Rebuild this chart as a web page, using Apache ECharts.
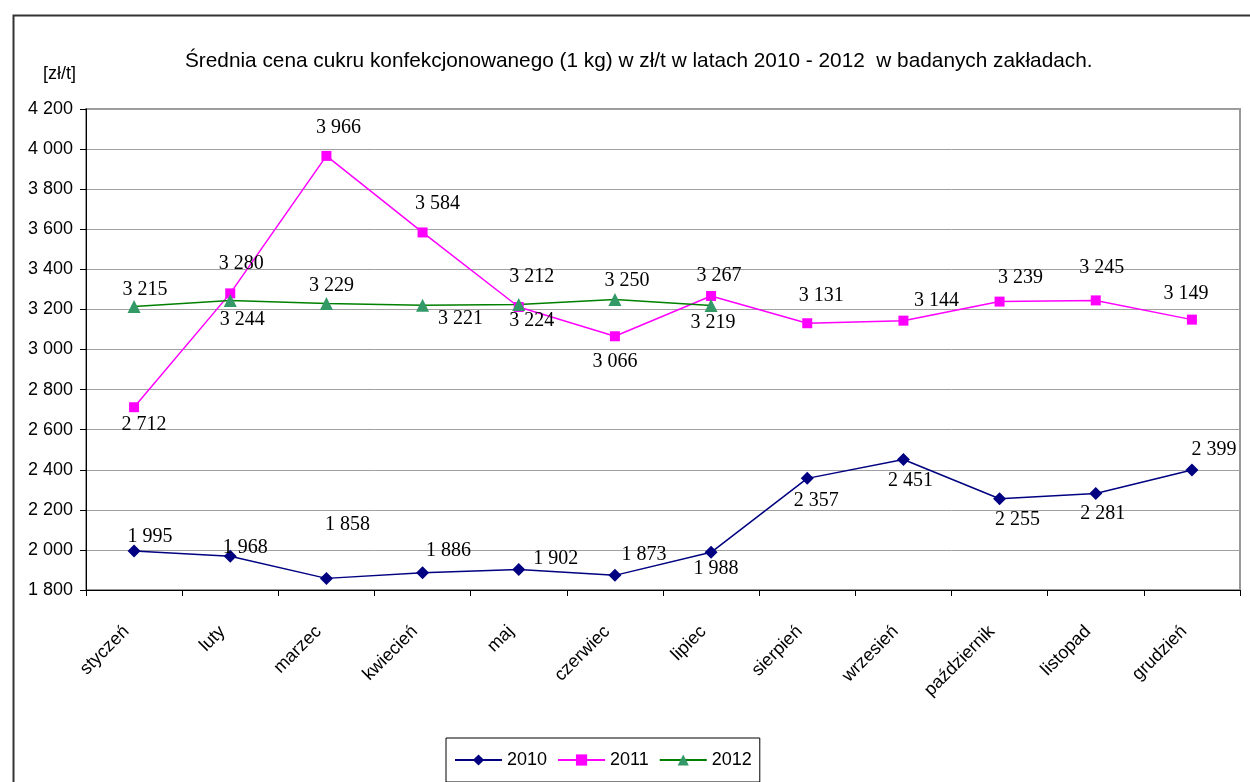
<!DOCTYPE html>
<html>
<head>
<meta charset="utf-8">
<script src="https://cdn.jsdelivr.net/npm/echarts@6/dist/echarts.min.js"></script>
<style>
html,body{margin:0;padding:0;background:#fff;}
#chart{width:1250px;height:782px;}
</style>
</head>
<body>
<div id="chart"></div>
<script>
// ---- data ----
const categories = ['styczeń','luty','marzec','kwiecień','maj','czerwiec','lipiec','sierpień','wrzesień','październik','listopad','grudzień'];
const values2010 = [1995,1968,1858,1886,1902,1873,1988,2357,2451,2255,2281,2399];
const values2011 = [2712,3280,3966,3584,3212,3066,3267,3131,3144,3239,3245,3149];
const values2012 = [3215,3244,3229,3221,3224,3250,3219,null,null,null,null,null];
const seriesNames = ['2010','2011','2012'];
const yMin = 1800, yMax = 4200, yStep = 200;
const titleText = 'Średnia cena cukru konfekcjonowanego (1 kg) w zł/t w latach 2010 - 2012  w badanych zakładach.';
const unitText = '[zł/t]';

// ---- label placement (styling) ----
const off2010 = [[16,-14],[15,-9],[21,-54],[26,-22],[37,-11],[29,-21],[5,16],[9,22],[7,21],[18,21],[7,20],[22,-20]];
const off2011 = [[10,18],[11,-30],[12,-28],[15,-29],[13,-30],[0,25],[8,-20],[14,-27],[33,-20],[21,-24],[6,-33],[-6,-26]];
const off2012 = [[11,-17],[12,19],[5,-18],[38,14],[13,16],[12,-19],[2,17]];

const fmt = v => String(v).replace(/\B(?=(\d{3})+(?!\d))/g, ' ');
const mk = (vals, offs) => vals.map((v,i) => ({value: v, label: {offset: offs[i] || [0,0]}}));

const labelBase = {
  show: true, position: 'inside',
  fontFamily: '"Liberation Serif","Times New Roman",serif', fontSize: 20, color: '#000',
  formatter: p => fmt(p.value)
};
const sans = '"Liberation Sans",Arial,sans-serif';

const chart = echarts.init(document.getElementById('chart'));
chart.setOption({
  animation: false,
  backgroundColor: '#fff',
  title: {
    text: titleText, left: 180, top: 46,
    textStyle: {fontFamily: sans, fontSize: 20.8, fontWeight: 'normal', color: '#000'}
  },
  graphic: [
    {type: 'rect', left: 11, top: 13, shape: {width: 1300, height: 800}, style: {fill: 'none', stroke: '#333', lineWidth: 2}, silent: true},
    {type: 'text', left: 43, top: 65, style: {text: unitText, font: '18px ' + sans, fill: '#000'}}
  ],
  legend: {
    left: 446, top: 738,
    padding: [13, 8],
    itemGap: 10, itemWidth: 47, itemHeight: 14,
    borderColor: '#000', borderWidth: 1,
    textStyle: {fontFamily: sans, fontSize: 18, color: '#000'},
    data: seriesNames
  },
  grid: {left: 86, right: 10, top: 109, bottom: 192, show: true, borderColor: '#999', borderWidth: 2, containLabel: false},
  xAxis: {
    type: 'category', data: categories, boundaryGap: true,
    axisLine: {lineStyle: {color: '#000', width: 1}},
    axisTick: {show: true, interval: 0, length: 6, lineStyle: {color: '#000'}},
    axisLabel: {interval: 0, rotate: 45, margin: 31, padding: [0, 11, 0, 0], fontFamily: sans, fontSize: 18, color: '#000'},
    splitLine: {show: false}
  },
  yAxis: {
    type: 'value', min: yMin, max: yMax, interval: yStep,
    axisLine: {show: true, lineStyle: {color: '#000', width: 1}},
    axisTick: {show: true, length: 6, lineStyle: {color: '#000'}},
    axisLabel: {margin: 13, fontFamily: sans, fontSize: 18, color: '#000', formatter: v => fmt(v)},
    splitLine: {show: true, lineStyle: {color: '#a0a0a0', width: 1}}
  },
  series: [
    {name: seriesNames[0], type: 'line', data: mk(values2010, off2010), symbol: 'diamond', symbolSize: 13,
     itemStyle: {color: '#000080'}, lineStyle: {color: '#000080', width: 1.5}, label: labelBase},
    {name: seriesNames[1], type: 'line', data: mk(values2011, off2011), symbol: 'rect', symbolSize: 10,
     itemStyle: {color: '#ff00ff'}, lineStyle: {color: '#ff00ff', width: 1.5}, label: labelBase},
    {name: seriesNames[2], type: 'line', data: mk(values2012, off2012), symbol: 'triangle', symbolSize: 13,
     itemStyle: {color: '#339966'}, lineStyle: {color: '#008000', width: 1.5}, label: labelBase, connectNulls: false}
  ]
});
</script>
</body>
</html>
